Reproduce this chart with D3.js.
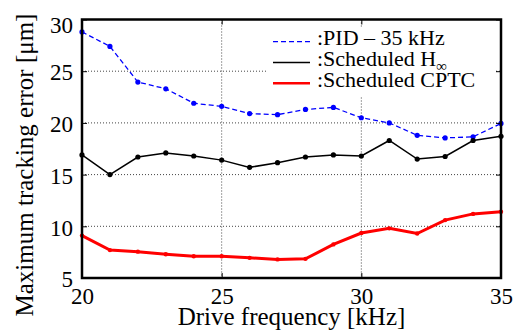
<!DOCTYPE html>
<html>
<head>
<meta charset="utf-8">
<script src="https://cdn.jsdelivr.net/npm/d3@7"></script>
<style>
  body { margin: 0; background: #fff; }
</style>
</head>
<body>
<div id="chart"></div>
<script>
const freqs = [20, 21, 22, 23, 24, 25, 26, 27, 28, 29, 30, 31, 32, 33, 34, 35];
const pid = [28.8, 27.4, 23.95, 23.3, 21.9, 21.6, 20.9, 20.8, 21.3, 21.5, 20.5, 20.0, 18.8, 18.55, 18.65, 19.95];
const hinf = [16.9, 15.0, 16.7, 17.1, 16.8, 16.4, 15.7, 16.15, 16.7, 16.9, 16.8, 18.3, 16.5, 16.75, 18.3, 18.7];
const cptc = [9.1, 7.7, 7.55, 7.3, 7.1, 7.1, 6.95, 6.8, 6.85, 8.25, 9.35, 9.8, 9.3, 10.6, 11.2, 11.4];
const xTicks = [20, 25, 30, 35];
const yTicks = [5, 10, 15, 20, 25, 30];

const serif = '"Liberation Serif", "Times New Roman", Times, serif';
const width = 516, height = 334;
const margin = { top: 19.5, right: 15, bottom: 56, left: 82 };
const innerWidth = width - margin.left - margin.right;
const innerHeight = height - margin.top - margin.bottom;

const svg = d3.select('#chart').append('svg')
  .attr('width', width)
  .attr('height', height);

const g = svg.append('g')
  .attr('transform', `translate(${margin.left},${margin.top})`);

const x = d3.scaleLinear().domain([20, 35]).range([0, innerWidth]);
const y = d3.scaleLinear().domain([5, 30]).range([innerHeight, 0]);

// Grid
g.append('g').selectAll('line')
  .data(xTicks.slice(1, -1))
  .enter().append('line')
  .attr('x1', d => x(d)).attr('x2', d => x(d))
  .attr('y1', 0).attr('y2', innerHeight)
  .style('stroke', '#444').style('stroke-width', 1).style('stroke-dasharray', '1,2');

g.append('g').selectAll('line')
  .data(yTicks.slice(1, -1))
  .enter().append('line')
  .attr('y1', d => y(d)).attr('y2', d => y(d))
  .attr('x1', 0).attr('x2', innerWidth)
  .style('stroke', '#444').style('stroke-width', 1).style('stroke-dasharray', '1,2');

// Legend background
const legend = svg.append('g');
legend.append('rect')
  .attr('x', 268).attr('y', 28)
  .attr('width', 228).attr('height', 68)
  .style('fill', '#fff');

// Series
const series = [
  { name: 'pid', values: pid, color: '#0000ff', width: 1.3, dash: '5,3', r: 2.6 },
  { name: 'hinf', values: hinf, color: '#000', width: 1.5, dash: null, r: 2.6 },
  { name: 'cptc', values: cptc, color: '#ff0000', width: 3, dash: null, r: 2.2 }
];

const line = d3.line()
  .x((d, i) => x(freqs[i]))
  .y(d => y(d));

series.forEach(s => {
  g.append('path')
    .datum(s.values)
    .attr('d', line)
    .style('fill', 'none')
    .style('stroke', s.color)
    .style('stroke-width', s.width)
    .style('stroke-dasharray', s.dash);

  g.selectAll('.pt-' + s.name)
    .data(s.values)
    .enter().append('circle')
    .attr('class', 'pt-' + s.name)
    .attr('cx', (d, i) => x(freqs[i]))
    .attr('cy', d => y(d))
    .attr('r', s.r)
    .style('fill', s.color);
});

// Axes
const xAxis = g.append('g')
  .attr('transform', `translate(0,${innerHeight})`)
  .call(d3.axisBottom(x).tickValues(xTicks).tickSize(-5).tickPadding(10));
const yAxis = g.append('g')
  .call(d3.axisLeft(y).tickValues(yTicks).tickSize(-5).tickPadding(9));
const topAxis = g.append('g')
  .call(d3.axisTop(x).tickValues(xTicks).tickSize(-5));
const rightAxis = g.append('g')
  .attr('transform', `translate(${innerWidth},0)`)
  .call(d3.axisRight(y).tickValues(yTicks).tickSize(-5));
topAxis.selectAll('text').remove();
rightAxis.selectAll('text').remove();

g.selectAll('.domain').remove();
g.selectAll('.tick line').style('stroke', '#000').style('stroke-width', 1);
xAxis.selectAll('text').style('font-size', '23px').style('font-family', serif).attr('dy', '0.71em');
yAxis.selectAll('text').style('font-size', '23px').style('font-family', serif)
  .attr('dy', d => d === 30 ? '0.55em' : '0.38em');

// Frame
g.append('rect')
  .attr('x', 0).attr('y', 0)
  .attr('width', innerWidth).attr('height', innerHeight)
  .style('fill', 'none')
  .style('stroke', '#000')
  .style('stroke-width', 2.5);

// Axis labels
svg.append('text')
  .attr('x', margin.left + innerWidth / 2)
  .attr('y', 325)
  .attr('text-anchor', 'middle')
  .style('font-family', serif)
  .style('font-size', '25px')
  .text('Drive frequency [kHz]');

svg.append('text')
  .attr('transform', 'translate(33,165) rotate(-90)')
  .attr('text-anchor', 'middle')
  .style('font-family', serif)
  .style('font-size', '25px')
  .text('Maximum tracking error [μm]');

// Legend entries
const legendItems = [
  { s: series[0], label: ':PID – 35 kHz' },
  { s: series[1], label: ':Scheduled H', sub: '∞' },
  { s: series[2], label: ':Scheduled CPTC' }
];

legendItems.forEach((d, i) => {
  const ly = 41.7 + i * 20.8;
  legend.append('line')
    .attr('x1', 273).attr('x2', 310)
    .attr('y1', ly).attr('y2', ly)
    .style('stroke', d.s.color)
    .style('stroke-width', d.s.name === 'cptc' ? 2.5 : 1.3)
    .style('stroke-dasharray', d.s.dash);
  const t = legend.append('text')
    .attr('x', 317)
    .attr('y', ly + 3.5)
    .style('font-family', serif)
    .style('font-size', '22px')
    .text(d.label);
  if (d.sub) {
    t.append('tspan')
      .attr('dy', 5)
      .style('font-size', '15px')
      .text(d.sub);
  }
});
</script>
</body>
</html>
